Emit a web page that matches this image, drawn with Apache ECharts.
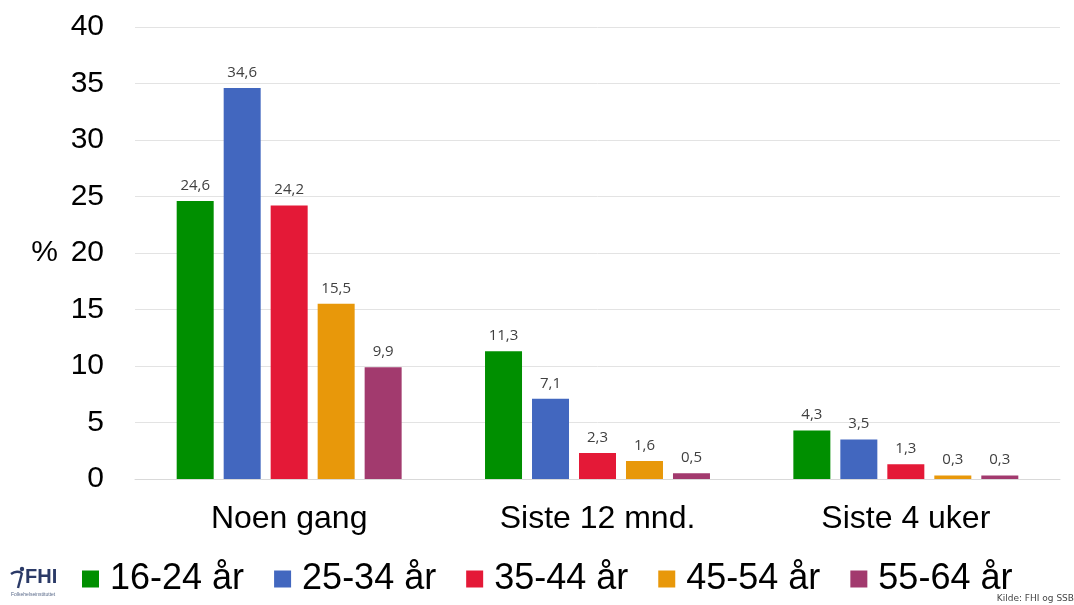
<!DOCTYPE html>
<html>
<head>
<meta charset="utf-8">
<script src="https://cdn.jsdelivr.net/npm/echarts@6/dist/echarts.min.js"></script>
<style>
  html, body { margin: 0; padding: 0; background: #fff; }
  #chart { width: 1074px; height: 605px; }
</style>
</head>
<body>
<div id="chart"></div>
<script>
// Share of respondents (%) by age group and time frame
const categories = ['Noen gang', 'Siste 12 mnd.', 'Siste 4 uker'];
const ageGroups = ['16-24 år', '25-34 år', '35-44 år', '45-54 år', '55-64 år'];
const age16_24 = [24.6, 11.3, 4.3];
const age25_34 = [34.6, 7.1, 3.5];
const age35_44 = [24.2, 2.3, 1.3];
const age45_54 = [15.5, 1.6, 0.3];
const age55_64 = [9.9, 0.5, 0.3];
const yTicks = [0, 5, 10, 15, 20, 25, 30, 35, 40];

const seriesValues = [age16_24, age25_34, age35_44, age45_54, age55_64];
const colors = ['#008F00', '#4267BF', '#E41937', '#E8980A', '#A23A6E'];

const chart = echarts.init(document.getElementById('chart'));

const series = ageGroups.map((name, i) => ({
  name: name,
  type: 'bar',
  data: seriesValues[i],
  barWidth: 37,
  barGap: '27%',
  itemStyle: { color: colors[i] },
  label: {
    show: true,
    position: 'top',
    distance: 8,
    fontFamily: 'Open Sans',
    fontSize: 15,
    color: '#404040',
    formatter: p => String(p.value).replace('.', ',')
  }
}));

chart.setOption({
  backgroundColor: '#ffffff',
  animation: false,
  grid: { left: 135, right: 14, top: 27, bottom: 126 },
  legend: {
    data: ageGroups,
    left: 77,
    top: 556,
    itemWidth: 17,
    itemHeight: 17,
    itemGap: 30,
    icon: 'rect',
    textStyle: {
      fontFamily: 'Liberation Sans',
      fontSize: 36,
      color: '#000',
      padding: [0, 0, 0, 6]
    }
  },
  xAxis: {
    type: 'category',
    data: categories,
    axisLine: { lineStyle: { color: '#d9d9d9', width: 1 } },
    axisTick: { show: false },
    axisLabel: {
      fontFamily: 'Liberation Sans',
      fontSize: 32,
      color: '#000',
      margin: 24
    }
  },
  yAxis: {
    type: 'value',
    min: yTicks[0],
    max: yTicks[yTicks.length - 1],
    interval: 5,
    name: '%',
    nameLocation: 'middle',
    nameRotate: 0,
    nameGap: 77,
    nameTextStyle: { fontFamily: 'Liberation Sans', fontSize: 30, color: '#000' },
    axisLine: { show: false },
    axisTick: { show: false },
    splitLine: { lineStyle: { color: '#e3e3e3', width: 1 } },
    axisLabel: {
      fontFamily: 'Liberation Sans',
      fontSize: 30,
      color: '#000',
      margin: 31
    }
  },
  graphic: [
    // FHI logo mark: small runner figure
    {
      type: 'circle',
      shape: { cx: 22, cy: 569, r: 2.2 },
      style: { fill: '#2B3A67' }
    },
    {
      type: 'bezierCurve',
      shape: { x1: 11, y1: 574, cpx1: 16, cpy1: 570, x2: 22, y2: 573 },
      style: { stroke: '#2B3A67', lineWidth: 2.4, fill: 'none' }
    },
    {
      type: 'line',
      shape: { x1: 22, y1: 573, x2: 18, y2: 588 },
      style: { stroke: '#2B3A67', lineWidth: 2.4 }
    },
    {
      type: 'text',
      left: 25,
      top: 567,
      style: {
        text: 'FHI',
        fontFamily: 'Liberation Sans',
        fontWeight: 'bold',
        fontSize: 20,
        fill: '#2B3A67'
      }
    },
    {
      type: 'text',
      left: 11,
      top: 592,
      style: {
        text: 'Folkehelseinstituttet',
        fontFamily: 'Liberation Sans',
        fontSize: 5,
        fill: '#5a6a8a'
      }
    },
    {
      type: 'text',
      right: 0,
      top: 594,
      style: {
        text: 'Kilde: FHI og SSB',
        fontFamily: 'DejaVu Sans',
        fontSize: 9,
        fill: '#444'
      }
    }
  ],
  series: series
});
</script>
</body>
</html>
